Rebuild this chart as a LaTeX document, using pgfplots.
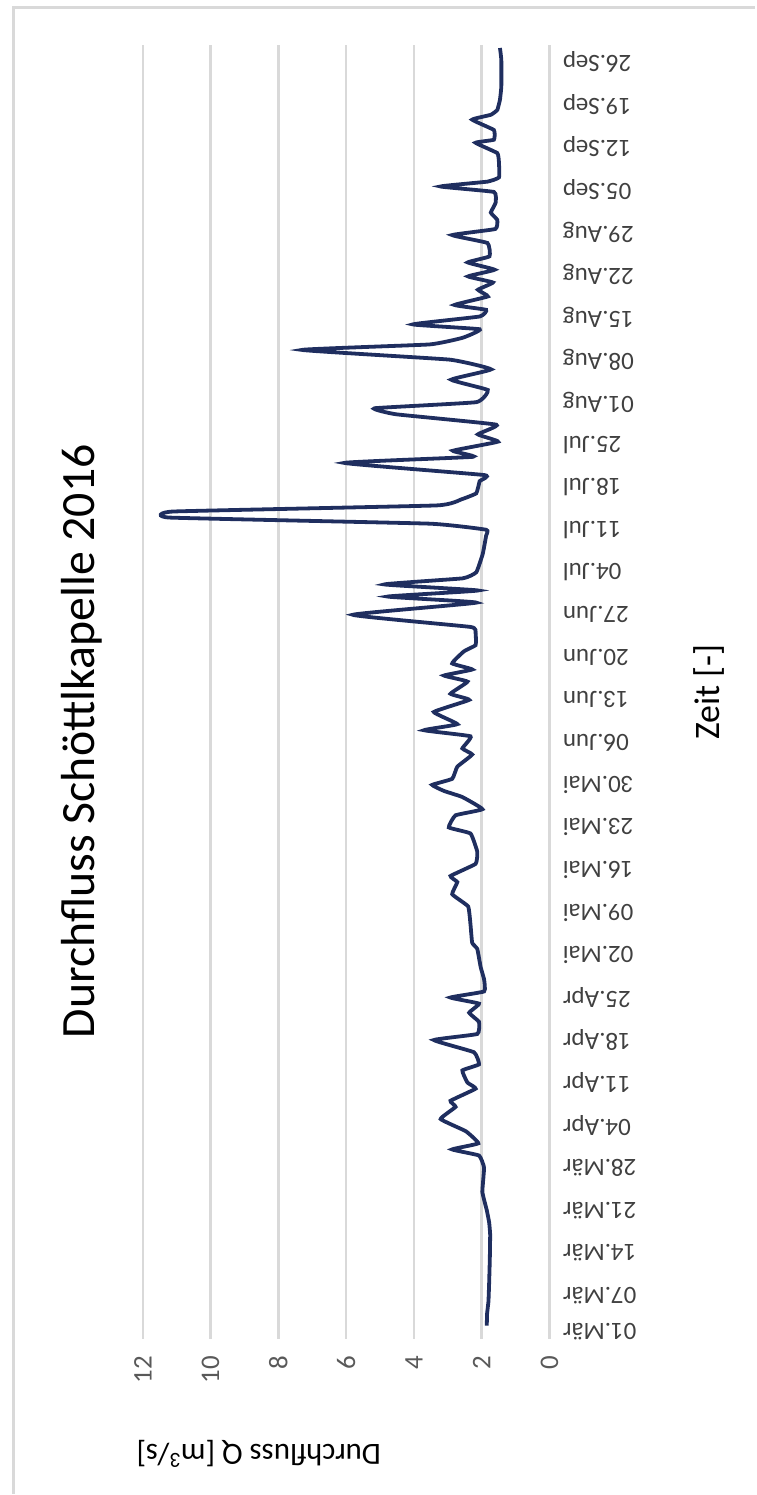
\documentclass[border=0pt]{standalone}
\usepackage{pgfplots}
\pgfplotsset{compat=1.18}
\usepackage{fontspec}
\setmainfont{Carlito}
\definecolor{linecol}{HTML}{1F2E5F}
\definecolor{gridcol}{HTML}{D9D9D9}
\definecolor{tickcol}{HTML}{595959}
\definecolor{datecol}{HTML}{404040}
\begin{document}
\begin{tikzpicture}[x=1bp,y=1bp]
\path (0,0) rectangle (756,1495);
\draw[gridcol, line width=3bp] (14,0) -- (14,1487) -- (756,1487);
\begin{axis}[
  at={(143bp,155bp)}, anchor=south west,
  scale only axis, width=407bp, height=1295bp,
  x dir=reverse, xmin=0, xmax=12, ymin=-1.15, ymax=211.8,
  clip=false,
  axis line style={draw=none},
  major tick length=0pt,
  xtick={0,2,4,6,8,10,12},
  xmajorgrids, ymajorgrids=false,
  grid style={gridcol, line width=2.5bp},
  /pgf/number format/assume math mode=true,
  xticklabel style={rotate=90, anchor=east, font=\fontsize{27}{32}\selectfont, text=tickcol},
  xticklabel shift=14bp,
  ytick={0,6,13,20,27,34,41,48,55,62,69,76,83,90,97,104,111,118,125,132,139,146,153,160,167,174,181,188,195,202,209},
  yticklabels={01.Mär,07.Mär,14.Mär,21.Mär,28.Mär,04.Apr,11.Apr,18.Apr,25.Apr,02.Mai,09.Mai,16.Mai,23.Mai,30.Mai,06.Jun,13.Jun,20.Jun,27.Jun,04.Jul,11.Jul,18.Jul,25.Jul,01.Aug,08.Aug,15.Aug,22.Aug,29.Aug,05.Sep,12.Sep,19.Sep,26.Sep},
  yticklabel pos=right,
  yticklabel style={rotate=180, anchor=east, font=\fontsize{25}{30}\selectfont, text=datecol},
  yticklabel shift=10bp,
]
\addplot[linecol, line width=3.8bp, smooth, tension=0.2] coordinates {
(1.85,1)(1.84,3)(1.80,5)(1.78,8)(1.76,12)(1.75,16)(1.78,18)(1.85,20)(1.98,23)(1.93,27)(2.08,29)(2.87,30)(2.10,31)(2.47,33)(3.21,35)(2.77,37)(2.92,38)(2.18,40)(2.42,41)(2.57,43)(2.08,44)(2.23,46)(3.41,48)(2.13,49)(2.08,51)(2.37,52.5)(2.08,54)(2.92,55)(1.93,56)(1.93,58)(2.03,60)(2.13,63)(2.28,64)(2.33,67)(2.40,70)(2.87,72)(2.72,74)(2.92,75)(2.18,77)(2.13,79)(2.33,82)(2.97,83)(2.77,85)(1.98,86)(2.57,88)(3.11,89)(3.46,90)(2.87,91)(2.72,93)(2.28,95)(2.57,96)(2.33,98)(3.70,99)(2.72,100)(3.41,102)(2.37,104)(2.92,105)(2.42,107)(3.11,108)(2.28,109)(2.87,110)(2.52,112)(2.18,113)(2.18,115)(2.33,116)(5.80,118)(2.16,120)(4.77,121)(2.11,122)(4.87,123)(2.56,124)(2.16,125)(1.97,128)(1.87,131)(1.87,132)(3.54,133)(11.2,134)(11.1,135)(3.34,136)(2.6,137)(2.16,138)(2.06,140)(1.92,141)(6.05,143)(2.26,144)(2.85,145)(1.52,146.5)(2.11,147.7)(1.57,149.3)(4.52,151)(5.16,152)(2.16,153)(1.82,155)(2.9,156.7)(1.72,158.4)(2.95,160)(7.3,161.6)(3.54,162.5)(2.56,163.6)(2.06,165)(4.03,165.8)(2.06,167.1)(1.87,168.2)(2.80,169)(1.82,170.4)(2.11,171.5)(1.67,172.7)(2.4,173.7)(1.62,174.8)(2.41,176)(1.77,177)(1.83,179.2)(2.87,180.5)(1.6,181.5)(1.54,183)(1.73,184.2)(1.59,185.8)(1.64,187.6)(3.21,188.5)(1.83,189.3)(1.49,190)(1.49,192.4)(1.54,194)(2.18,195.7)(1.64,196.2)(1.64,197.8)(2.28,199.5)(1.73,200.3)(1.54,201.1)(1.46,202.8)(1.42,205)(1.42,209.3)(1.46,211.3)
};
\end{axis}
\node[rotate=90, font=\fontsize{48}{58}\selectfont] at (82,753) {Durchfluss Schöttlkapelle 2016};
\node[rotate=180, font=\fontsize{31}{37}\selectfont] at (259,40) {Durchfluss Q [m\textsuperscript{3}/s]};
\node[rotate=90, font=\fontsize{36}{43}\selectfont] at (710,802) {Zeit [-]};
\end{tikzpicture}
\end{document}
